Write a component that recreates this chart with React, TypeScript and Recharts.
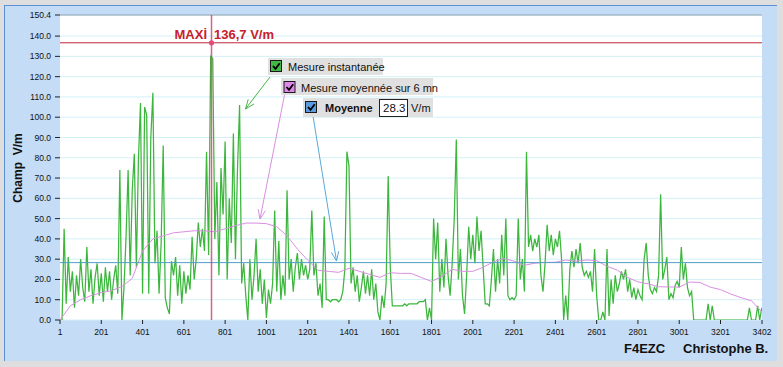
import { LineChart, Line, XAxis, YAxis, CartesianGrid, ReferenceLine, ReferenceDot } from 'recharts';

// mesure instantanée, un point tous les 10 échantillons (1, 11, 21 ... 3401)
const mesureInstantanee = [
  0, 0, 45, 8, 31, 14, 24, 6, 22, 12, 30, 16, 9, 36, 14, 25, 8, 21, 28, 12,
  23, 9, 26, 14, 24, 10, 20, 27, 13, 74, 0, 16, 41, 74, 22, 64, 82, 26, 79, 107,
  13, 105, 101, 13, 90, 112, 28, 44, 13, 38, 86, 11, 6, 3, 29, 22, 31, 12, 27, 8,
  24, 13, 22, 15, 41, 20, 30, 48, 36, 45, 34, 83, 32, 130, 129, 40, 68, 22, 75, 52,
  88, 20, 60, 38, 92, 30, 75, 106, 18, 28, 12, 0, 30, 10, 22, 40, 14, 25, 8, 20,
  1, 15, 8, 18, 54, 14, 39, 10, 22, 12, 64, 20, 30, 14, 26, 33, 20, 30, 22, 27,
  20, 25, 54, 22, 28, 12, 18, 6, 51, 10, 10, 9, 10, 10, 10, 9, 10, 14, 25, 83,
  76, 18, 26, 14, 22, 9, 16, 24, 13, 22, 12, 25, 10, 18, 4, 0, 12, 6, 18, 71,
  26, 7, 7, 7, 7, 7, 7, 8, 7, 8, 8, 8, 8, 8, 9, 9, 9, 10, 0, 6,
  0, 50, 30, 48, 14, 30, 16, 40, 22, 12, 28, 50, 89, 20, 35, 12, 3, 22, 46, 30,
  42, 28, 51, 34, 44, 26, 8, 8, 7, 20, 35, 14, 30, 18, 42, 22, 50, 12, 10, 11,
  10, 12, 50, 20, 30, 14, 83, 36, 42, 34, 40, 36, 42, 22, 14, 28, 47, 34, 42, 32,
  40, 36, 44, 30, 0, 12, 0, 25, 34, 26, 35, 28, 38, 26, 22, 24, 21, 24, 14, 35,
  12, 0, 0, 4, 0, 35, 2, 20, 8, 22, 14, 18, 24, 20, 25, 14, 20, 11, 16, 10,
  15, 12, 10, 30, 38, 22, 15, 13, 16, 14, 22, 62, 20, 25, 31, 10, 13, 11, 17, 19,
  16, 36, 20, 28, 16, 12, 14, 0, 0, 0, 0, 0, 0, 0, 8, 0, 7, 0, 0, 0,
  0, 0, 0, 0, 0, 0, 0, 0, 0, 0, 0, 0, 0, 0, 6, 0, 0, 0, 7, 0,
  6,
];

// mesure moyennée sur 6 mn, un point tous les 50 échantillons
const mesureMoyenne6mn = [
  0, 7, 10, 12, 13.5, 14.5, 16.5, 20.5, 34, 40,
  41.5, 43, 43.5, 44, 44, 43.5, 45, 46.5, 47.8, 47.8,
  47.5, 46, 41.5, 35, 29.5, 24.5, 24, 23.5, 25.5, 24,
  22.5, 21, 23.3, 23, 23, 21, 19, 21.5, 25, 24,
  24, 26, 28.7, 30.3, 29, 27, 28, 28.4, 28.5, 29.6,
  29, 29.6, 29.3, 26.5, 24.6, 21, 18.8, 17.8, 16.4, 16.3,
  16.2, 18.7, 18.5, 16.2, 15, 12.8, 11, 9.5, 4,
];

const xTicks = [1, 201, 401, 601, 801, 1001, 1201, 1401, 1601, 1801, 2001, 2201, 2401, 2601, 2801, 3001, 3201, 3402];
const yTicks = [0, 10, 20, 30, 40, 50, 60, 70, 80, 90, 100, 110, 120, 130, 140, 150.4];

const MOYENNE = 28.3;
const MAXI = 136.7;
const MAXI_ECHANTILLON = 735;

const instData = mesureInstantanee.map((v, i) => ({ n: 1 + i * 10, v }));
const moyData = mesureMoyenne6mn.map((v, i) => ({ n: 1 + i * 50, v }));

const FONT = 'Liberation Sans, Arial, sans-serif';

function Fleche({ x1, y1, x2, y2, color }: { x1: number; y1: number; x2: number; y2: number; color: string }) {
  const a = Math.atan2(y1 - y2, x1 - x2);
  const L = 10;
  const w = 0.38;
  return (
    <g stroke={color} strokeWidth={1} fill="none">
      <line x1={x1} y1={y1} x2={x2} y2={y2} />
      <line x1={x2} y1={y2} x2={x2 + L * Math.cos(a + w)} y2={y2 + L * Math.sin(a + w)} />
      <line x1={x2} y1={y2} x2={x2 + L * Math.cos(a - w)} y2={y2 + L * Math.sin(a - w)} />
    </g>
  );
}

function Case({ x, y, color }: { x: number; y: number; color: string }) {
  return (
    <g>
      <rect x={x + 0.5} y={y + 0.5} width={11} height={11} fill={color} stroke="#1a1a1a" />
      <path d={`M${x + 3} ${y + 6} l2.5 2.8 l4.2 -5.6`} stroke="#000" strokeWidth={1.8} fill="none" />
    </g>
  );
}

export default function App() {
  return (
    <div style={{ position: 'absolute', left: 0, top: 0, width: 783, height: 367, background: '#dedede', overflow: 'hidden' }}>
      <div
        style={{
          position: 'absolute', left: 4, top: 5, width: 773, height: 356,
          background: '#c4dcf5', borderTop: '1px solid #5d8fd4', borderLeft: '1px solid #5d8fd4', boxSizing: 'border-box',
        }}
      />
      <div style={{ position: 'absolute', left: 0, top: 0 }}>
        <LineChart width={783} height={367} margin={{ top: 15, right: 21, bottom: 0, left: 0 }} style={{ fontFamily: FONT }}>
          <CartesianGrid vertical={false} stroke="#d2f1f7" fill="#ffffff" />
          <XAxis
            dataKey="n"
            type="number"
            domain={[1, 3402]}
            ticks={xTicks}
            interval={0}
            height={47}
            axisLine={false}
            tickLine={{ stroke: '#222' }}
            tickSize={4}
            tickMargin={5}
            tick={{ fill: '#111', fontSize: 8.5, fontFamily: FONT }}
            allowDataOverflow
          />
          <YAxis
            type="number"
            domain={[0, 150.4]}
            ticks={yTicks}
            interval={0}
            width={60}
            axisLine={false}
            tickLine={{ stroke: '#222' }}
            tickSize={5}
            tickMargin={4}
            tick={{ fill: '#111', fontSize: 8.5, fontFamily: FONT }}
            tickFormatter={(v: number) => v.toFixed(1)}
            allowDataOverflow
          />
          <ReferenceLine y={150.4} stroke="#8d9fb3" />
          <Line data={instData} dataKey="v" type="linear" stroke="#3cb63c" strokeWidth={1.25} dot={false} activeDot={false} isAnimationActive={false} />
          <Line data={moyData} dataKey="v" type="linear" stroke="#d98fe2" strokeWidth={1} dot={false} activeDot={false} isAnimationActive={false} />
          <ReferenceLine y={MOYENNE} stroke="#4f9fc6" />
          <ReferenceLine y={MAXI} stroke="#c0283a" />
          <ReferenceLine x={MAXI_ECHANTILLON} stroke="#c8406a" strokeWidth={1.5} strokeOpacity={0.8} />
          <ReferenceDot x={MAXI_ECHANTILLON} y={MAXI} r={2.6} fill="#e24a7c" stroke="none" />
        </LineChart>
      </div>
      <svg width={783} height={367} style={{ position: 'absolute', left: 0, top: 0, pointerEvents: 'none', fontFamily: FONT }}>
        <text x={22} y={168} transform="rotate(-90 22 168)" textAnchor="middle" fontSize={12} fontWeight="bold" fill="#111" style={{ whiteSpace: 'pre' }}>
          {'Champ  V/m'}
        </text>

        <text x={207} y={38.5} textAnchor="end" fontSize={13} fontWeight="bold" fill="#c8202c">MAXİ</text>
        <text x={214} y={38.5} fontSize={13} fontWeight="bold" fill="#c8202c">136,7 V/m</text>

        <Fleche x1={270} y1={77} x2={245.5} y2={109} color="#45b545" />
        <Fleche x1={284.5} y1={95} x2={260} y2={219} color="#d98fe2" />
        <Fleche x1={313} y1={116} x2={336.5} y2={261} color="#5aa8d8" />

        <rect x={268} y={58} width={115} height={17} fill="#e0e0e0" />
        <Case x={270} y={60} color="#44b844" />
        <text x={288} y={70.5} fontSize={11} fill="#111">Mesure instantanée</text>

        <rect x={281} y={78} width={152} height={17} fill="#e0e0e0" />
        <Case x={283.5} y={81} color="#e088e8" />
        <text x={301} y={91.5} fontSize={11} fill="#111">Mesure moyennée sur 6 mn</text>

        <rect x={303} y={98} width={130} height={19} fill="#e0e0e0" />
        <Case x={305} y={101} color="#5b9be0" />
        <text x={325} y={111.5} fontSize={11} fontWeight="bold" fill="#111">Moyenne</text>
        <rect x={379.5} y={99.5} width={28} height={17} fill="#fff" stroke="#222" />
        <text x={405.5} y={111.5} textAnchor="end" fontSize={11.5} fill="#111">28.3</text>
        <text x={411} y={111.5} fontSize={11} fill="#111">V/m</text>

        <text x={624} y={353} fontSize={13} fontWeight="bold" fill="#111">F4EZC</text>
        <text x={683} y={353} fontSize={13} fontWeight="bold" fill="#111">Christophe B.</text>
      </svg>
    </div>
  );
}
